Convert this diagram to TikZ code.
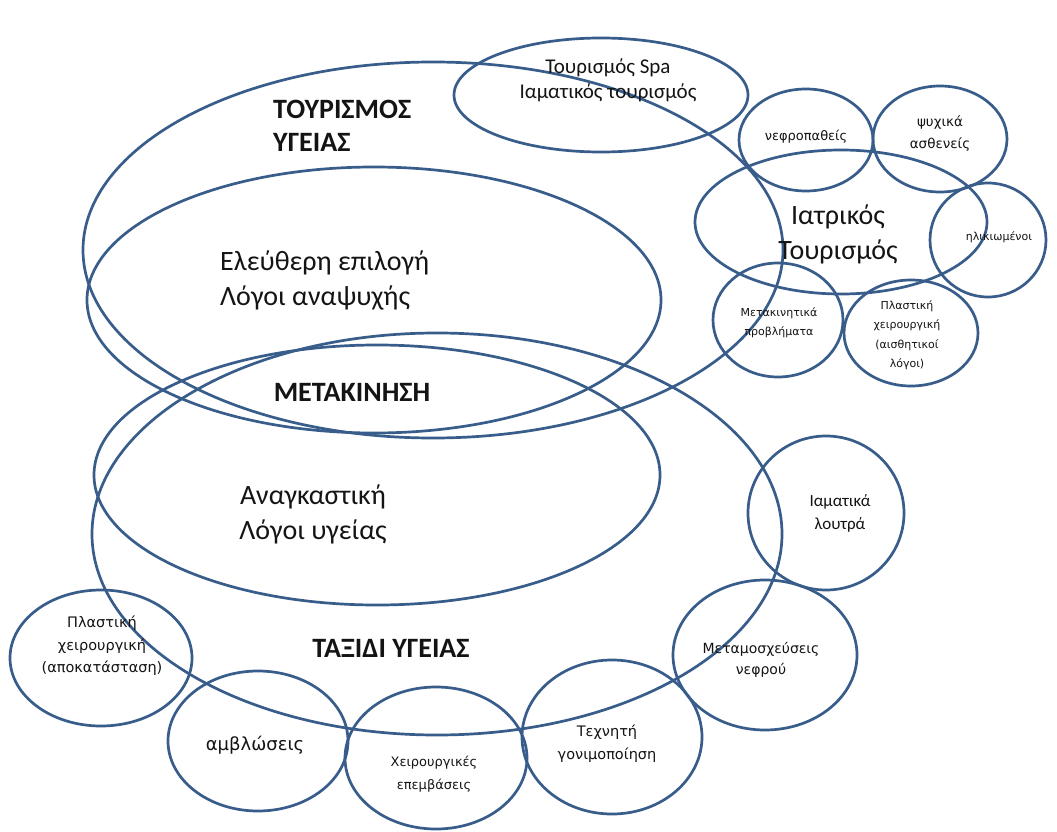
\documentclass[tikz,border=0pt]{standalone}
\usepackage{fontspec}
\setmainfont{Carlito}
\newfontfamily\smallfont{DejaVu Sans}
\usetikzlibrary{shapes.geometric}
\definecolor{edge}{RGB}{56,93,138}
\definecolor{ink}{RGB}{20,20,20}
\begin{document}
\begin{tikzpicture}[x=1pt,y=-1pt,
  ring/.style={draw=edge, line width=2.7pt, ellipse, inner sep=0pt, outer sep=0pt},
  bigtxt/.style={font=\fontsize{28}{35}\selectfont, text=ink, inner sep=0pt},
  boldtxt/.style={font=\fontsize{28}{33}\selectfont\bfseries, text=ink, inner sep=0pt},
  midtxt/.style={font=\fontsize{21}{25}\selectfont, text=ink, inner sep=0pt, align=center},
  smalltxt/.style={font=\smallfont\fontsize{12.5}{19}\selectfont, text=ink, inner sep=0pt, align=center}]
\useasboundingbox[fill=white] (0,0) rectangle (1057,832);

% large ellipses
\node[ring, minimum width=700pt, minimum height=376pt] (A) at (433,250) {};
\node[ring, minimum width=574pt, minimum height=266pt] (B) at (374,300) {};
\node[ring, minimum width=566pt, minimum height=260pt] (C) at (377,475) {};
\node[ring, minimum width=690pt, minimum height=402pt] (D) at (437,534) {};
\node[ring, minimum width=294pt, minimum height=114pt] (spa) at (601,95) {};
\node[ring, minimum width=292pt, minimum height=144pt] (iatr) at (841,222) {};

% small ellipses
\node[ring, minimum width=134pt, minimum height=102pt] (nefro) at (806,140) {};
\node[ring, minimum width=134pt, minimum height=106pt] (psych) at (940,139) {};
\node[ring, minimum width=116pt, minimum height=114pt] (ilik) at (988,240) {};
\node[ring, minimum width=130pt, minimum height=114pt] (metak) at (778,320) {};
\node[ring, minimum width=134pt, minimum height=106pt] (plastA) at (911,333) {};
\node[ring, minimum width=156pt, minimum height=154pt] (iamat) at (826,513) {};
\node[ring, minimum width=184pt, minimum height=150pt] (metam) at (765,655) {};
\node[ring, minimum width=180pt, minimum height=154pt] (techn) at (612,737) {};
\node[ring, minimum width=182pt, minimum height=142pt] (cheir) at (436,758) {};
\node[ring, minimum width=180pt, minimum height=140pt] (amvl) at (258,741) {};
\node[ring, minimum width=182pt, minimum height=136pt] (plastB) at (101,658) {};

% labels
\node[boldtxt, align=left, anchor=west] (tA) at (273,126) {ΤΟΥΡΙΣΜΟΣ\\ΥΓΕΙΑΣ};
\node[bigtxt, align=left, anchor=west] (tB) at (220,280) {Ελεύθερη επιλογή\\Λόγοι αναψυχής};
\node[boldtxt] (tM) at (352,392) {ΜΕΤΑΚΙΝΗΣΗ};
\node[bigtxt, align=center] (tC) at (313,514) {Αναγκαστική\\Λόγοι υγείας};
\node[boldtxt] (tD) at (391,648) {ΤΑΞΙΔΙ ΥΓΕΙΑΣ};
\node[midtxt] (tspa) at (608,80) {Τουρισμός Spa\\Ιαματικός τουρισμός};
\node[bigtxt, align=center] (tiatr) at (838,234) {Ιατρικός\\Τουρισμός};

\node[smalltxt, font=\smallfont\fontsize{13}{19}\selectfont] (tnefro) at (806,137) {νεφροπαθείς};
\node[smalltxt, font=\smallfont\fontsize{13.5}{22}\selectfont] (tpsych) at (940,134) {ψυχικά\\ασθενείς};
\node[smalltxt, font=\smallfont\fontsize{11}{19}\selectfont] (tilik) at (999,237) {ηλικιωμένοι};
\node[smalltxt, font=\smallfont\fontsize{11}{19}\selectfont] (tmetak) at (779,323) {Μετακινητικά\\προβλήματα};
\node[smalltxt, font=\smallfont\fontsize{11}{19.5}\selectfont] (tplastA) at (907,335) {Πλαστική\\χειρουργική\\(αισθητικοί\\λόγοι)};
\node[midtxt, font=\fontsize{17}{23}\selectfont] (tiamat) at (840,513) {Ιαματικά\\λουτρά};
\node[smalltxt, font=\smallfont\fontsize{14}{21}\selectfont] (tmetam) at (761,660) {Μεταμοσχεύσεις\\νεφρού};
\node[smalltxt, font=\smallfont\fontsize{14.5}{23}\selectfont] (ttechn) at (607,744) {Τεχνητή\\γονιμοποίηση};
\node[smalltxt, font=\smallfont\fontsize{13}{23}\selectfont] (tcheir) at (434,774) {Χειρουργικές\\επεμβάσεις};
\node[smalltxt, font=\smallfont\fontsize{18}{20}\selectfont] (tamvl) at (255,745) {αμβλώσεις};
\node[smalltxt, font=\smallfont\fontsize{14.5}{22.5}\selectfont] (tplastB) at (102,646) {Πλαστική\\χειρουργική\\(αποκατάσταση)};
\end{tikzpicture}
\end{document}
